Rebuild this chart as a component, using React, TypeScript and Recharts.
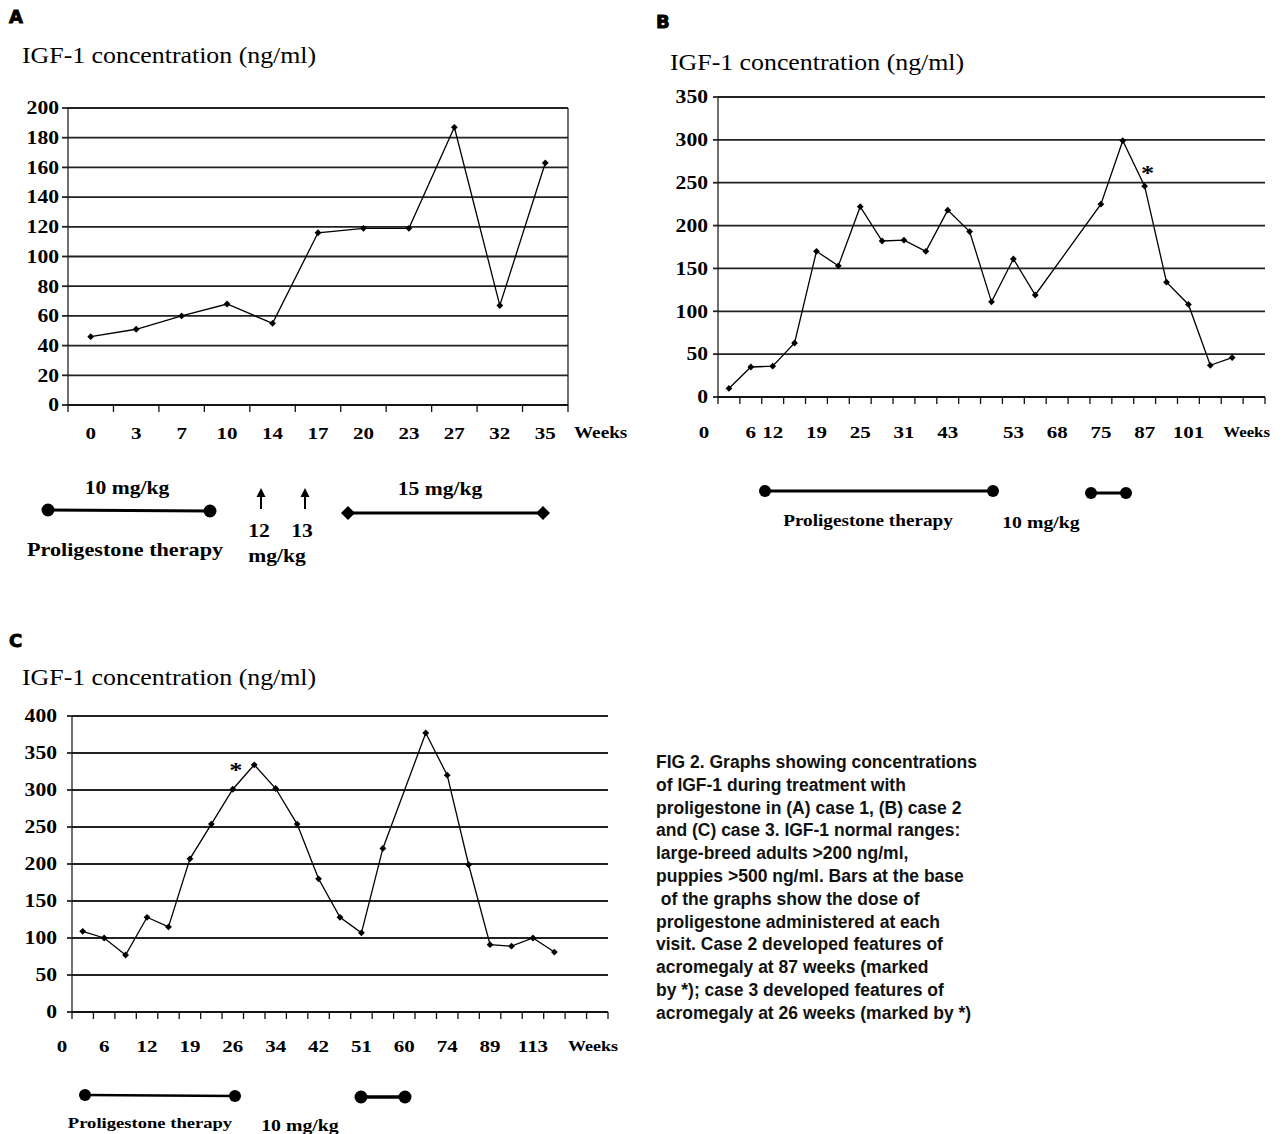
import React from "react";
import { LineChart, Line, XAxis, YAxis, CartesianGrid } from "recharts";

const SERIF = '"Liberation Serif", "Times New Roman", Times, serif';
const SANS = '"Liberation Sans", Arial, Helvetica, sans-serif';
const HEAVY = '"DejaVu Sans", "Liberation Sans", sans-serif';
const SX = 1.2; // the scanned type is a little wider than plain Times
const INK = "#111";

// Case 1 (A): one visit per week label
const weeksA = ["0", "3", "7", "10", "14", "17", "20", "23", "27", "32", "35"];
const igfA = [46, 51, 60, 68, 55, 116, 119, 119, 187, 67, 163];
const ticksA = [0, 20, 40, 60, 80, 100, 120, 140, 160, 180, 200];

// Case 2 (B): one slot per visit, only some of them carry a week label
const weeksB = ["", "6", "12", "", "19", "", "25", "", "31", "", "43", "", "", "53", "", "68", "", "75", "", "87", "", "101", "", "", ""];
const igfB = [10, 35, 36, 63, 170, 153, 222, 182, 183, 170, 218, 193, 111, 161, 119, null, null, 225, 299, 246, 134, 108, 37, 46, null];
const ticksB = [0, 50, 100, 150, 200, 250, 300, 350];
const starB = 19; // 87 weeks

// Case 3 (C)
const weeksC = ["", "6", "", "12", "", "19", "", "26", "", "34", "", "42", "", "51", "", "60", "", "74", "", "89", "", "113", "", "", ""];
const igfC = [109, 100, 77, 128, 115, 207, 254, 301, 334, 302, 254, 180, 128, 107, 221, null, 377, 320, 199, 91, 89, 100, 81, null, null];
const ticksC = [0, 50, 100, 150, 200, 250, 300, 350, 400];
const starC = 7; // 26 weeks

const caption = [
  "FIG 2. Graphs showing concentrations",
  "of IGF-1 during treatment with",
  "proligestone in (A) case 1, (B) case 2",
  "and (C) case 3. IGF-1 normal ranges:",
  "large-breed adults >200 ng/ml,",
  "puppies >500 ng/ml. Bars at the base",
  " of the graphs show the dose of",
  "proligestone administered at each",
  "visit. Case 2 developed features of",
  "acromegaly at 87 weeks (marked",
  "by *); case 3 developed features of",
  "acromegaly at 26 weeks (marked by *)",
];

function SText({ x, y, size, anchor = "middle", weight = 700, sx = SX, children }: any) {
  return (
    <text
      transform={`translate(${x},${y}) scale(${sx},1)`}
      textAnchor={anchor}
      dominantBaseline="central"
      fontFamily={SERIF}
      fontSize={size}
      fontWeight={weight}
      fill="#000"
    >
      {children}
    </text>
  );
}

// x tick: tick mark on the band edge, week label in the middle
const WeekTick = (props: any) => {
  const { x, y, index, labels, half, count, labelDy, zeroDx, weeksDx, weeksAnchor, weeksSize } = props;
  const last = index === count - 1;
  return (
    <g>
      <line x1={x - half} y1={y} x2={x - half} y2={y + 7} stroke={INK} strokeWidth={1.3} />
      {last && <line x1={x + half} y1={y} x2={x + half} y2={y + 7} stroke={INK} strokeWidth={1.3} />}
      {labels[index] ? (
        <SText x={x} y={y + labelDy} size={17.5}>
          {labels[index]}
        </SText>
      ) : null}
      {index === 0 && zeroDx != null ? (
        <SText x={x - half - zeroDx} y={y + labelDy} size={17.5}>
          0
        </SText>
      ) : null}
      {last ? (
        <SText x={x + half + weeksDx} y={y + labelDy} size={weeksSize} anchor={weeksAnchor}>
          Weeks
        </SText>
      ) : null}
    </g>
  );
};

const ValueTick = (props: any) => (
  <SText x={props.x} y={props.y} size={18} anchor="end">
    {props.payload.value}
  </SText>
);

const Diamond = (p: any) => {
  if (p.cx == null || p.cy == null || p.value == null) return <g key={p.index} />;
  const s = 3.4;
  return (
    <path
      key={p.index}
      d={`M${p.cx},${p.cy - s}L${p.cx + s},${p.cy}L${p.cx},${p.cy + s}L${p.cx - s},${p.cy}Z`}
      fill="#000"
    />
  );
};

function Panel({
  weeks, values, ticks, left, top, width, height, margin, yWidth, xHeight,
  box = false, star, starDy = -13, labelDy, zeroDx, weeksDx, weeksAnchor, weeksSize, yTickSize, yTickMargin,
}: any) {
  const rows = values.map((v: number | null, i: number) => ({ idx: i, igf: v }));
  const plotW = width - margin.left - margin.right - yWidth - (box ? 1 : 0);
  const half = plotW / rows.length / 2;
  const max = ticks[ticks.length - 1];
  return (
    <div style={{ position: "absolute", left, top }}>
      <LineChart width={width} height={height} data={rows} margin={margin}>
        <CartesianGrid vertical={false} stroke="#222" strokeWidth={1.8} />
        <XAxis
          dataKey="idx"
          type="category"
          scale="band"
          interval={0}
          height={xHeight}
          tickSize={0}
          tickMargin={0}
          tickLine={false}
          axisLine={{ stroke: INK, strokeWidth: 1.6 }}
          tick={
            <WeekTick
              labels={weeks}
              half={half}
              count={rows.length}
              labelDy={labelDy}
              zeroDx={zeroDx}
              weeksDx={weeksDx}
              weeksAnchor={weeksAnchor}
              weeksSize={weeksSize}
            />
          }
        />
        <YAxis
          domain={[0, max]}
          ticks={ticks}
          interval={0}
          width={yWidth}
          tickSize={yTickSize}
          tickMargin={yTickMargin}
          axisLine={{ stroke: INK, strokeWidth: 1.2 }}
          tickLine={{ stroke: "#222", strokeWidth: 1.8 }}
          tick={<ValueTick />}
        />
        {box && (
          <YAxis
            yAxisId="frame"
            orientation="right"
            domain={[0, max]}
            width={1}
            tick={false}
            tickLine={false}
            axisLine={{ stroke: INK, strokeWidth: 1.2 }}
          />
        )}
        <Line
          dataKey="igf"
          type="linear"
          stroke="#000"
          strokeWidth={1.3}
          connectNulls
          dot={Diamond}
          activeDot={false}
          isAnimationActive={false}
          label={(p: any) =>
            star != null && p.index === star ? (
              <SText key="star" x={p.x + 3} y={p.y + starDy} size={22}>
                *
              </SText>
            ) : null
          }
        />
      </LineChart>
    </div>
  );
}

function Dot({ cx, cy, r = 6 }: any) {
  return <circle cx={cx} cy={cy} r={r} fill="#000" />;
}
function Rhomb({ cx, cy, s = 7 }: any) {
  return <path d={`M${cx - s},${cy}L${cx},${cy - s}L${cx + s},${cy}L${cx},${cy + s}Z`} fill="#000" />;
}
function Arrow({ x, y1, y2 }: any) {
  return (
    <g>
      <line x1={x} y1={y1 + 6} x2={x} y2={y2} stroke="#000" strokeWidth={2} />
      <path d={`M${x},${y1}L${x - 4.5},${y1 + 9}L${x + 4.5},${y1 + 9}Z`} fill="#000" />
    </g>
  );
}

function Letter({ x, y, children }: any) {
  return (
    <text x={x} y={y} fontFamily={HEAVY} fontWeight={700} fontSize={18} fill="#000" stroke="#000" strokeWidth={0.9}>
      {children}
    </text>
  );
}

export default function App() {
  return (
    <div style={{ position: "absolute", left: 0, top: 0, width: 1284, height: 1134, background: "#fff", overflow: "hidden" }}>
      <Panel
        weeks={weeksA} values={igfA} ticks={ticksA}
        left={0} top={90} width={640} height={370}
        margin={{ top: 18, right: 71, bottom: 15, left: 0 }}
        yWidth={68} xHeight={40} box
        labelDy={28} weeksDx={6} weeksAnchor="start" weeksSize={16}
        yTickSize={6} yTickMargin={3}
      />
      <Panel
        weeks={weeksB} values={igfB} ticks={ticksB}
        left={640} top={80} width={644} height={380}
        margin={{ top: 17, right: 19, bottom: 18, left: 0 }}
        yWidth={78} xHeight={45} star={starB} starDy={-14}
        labelDy={35} zeroDx={14} weeksDx={5} weeksAnchor="end" weeksSize={14}
        yTickSize={5} yTickMargin={5}
      />
      <Panel
        weeks={weeksC} values={igfC} ticks={ticksC}
        left={0} top={700} width={640} height={380}
        margin={{ top: 16, right: 32, bottom: 18, left: 0 }}
        yWidth={72} xHeight={50} star={starC} starDy={-20}
        labelDy={34} zeroDx={10} weeksDx={10} weeksAnchor="end" weeksSize={15}
        yTickSize={5} yTickMargin={10}
      />

      <svg width={1284} height={1134} style={{ position: "absolute", left: 0, top: 0, pointerEvents: "none" }}>
        {/* panel letters and titles */}
        <Letter x={9} y={23}>A</Letter>
        <Letter x={656} y={28}>B</Letter>
        <Letter x={9} y={647}>C</Letter>
        <SText x={22} y={55} size={23.5} weight={400} sx={1.1} anchor="start">IGF-1 concentration (ng/ml)</SText>
        <SText x={670} y={62} size={23.5} weight={400} sx={1.1} anchor="start">IGF-1 concentration (ng/ml)</SText>
        <SText x={22} y={677} size={23.5} weight={400} sx={1.1} anchor="start">IGF-1 concentration (ng/ml)</SText>

        {/* dose bars, case 1 */}
        <SText x={127} y={488} size={18}>10 mg/kg</SText>
        <line x1={48} y1={510} x2={210} y2={511} stroke="#000" strokeWidth={3} />
        <Dot cx={48} cy={510} r={6.5} />
        <Dot cx={210} cy={511} r={6.5} />
        <SText x={125} y={550} size={18.5}>Proligestone therapy</SText>
        <Arrow x={261} y1={488} y2={509} />
        <Arrow x={305} y1={488} y2={509} />
        <SText x={259} y={531} size={18}>12</SText>
        <SText x={302} y={531} size={18}>13</SText>
        <SText x={277} y={556} size={18}>mg/kg</SText>
        <line x1={348} y1={513} x2={543} y2={513} stroke="#000" strokeWidth={3} />
        <Rhomb cx={348} cy={513} />
        <Rhomb cx={543} cy={513} />
        <SText x={440} y={489} size={18}>15 mg/kg</SText>

        {/* dose bars, case 2 */}
        <line x1={765} y1={491} x2={993} y2={491} stroke="#000" strokeWidth={3} />
        <Dot cx={765} cy={491} />
        <Dot cx={993} cy={491} />
        <line x1={1091} y1={493} x2={1126} y2={493} stroke="#000" strokeWidth={3} />
        <Dot cx={1091} cy={493} />
        <Dot cx={1126} cy={493} />
        <SText x={868} y={521} size={16}>Proligestone therapy</SText>
        <SText x={1041} y={523} size={16.5}>10 mg/kg</SText>

        {/* dose bars, case 3 */}
        <line x1={85} y1={1095} x2={235} y2={1096} stroke="#000" strokeWidth={2.5} />
        <Dot cx={85} cy={1095} />
        <Dot cx={235} cy={1096} />
        <line x1={361} y1={1097} x2={405} y2={1097} stroke="#000" strokeWidth={3.5} />
        <Dot cx={361} cy={1097} r={6.5} />
        <Dot cx={405} cy={1097} r={6.5} />
        <SText x={150} y={1123} size={15.5}>Proligestone therapy</SText>
        <SText x={300} y={1126} size={16.5}>10 mg/kg</SText>
      </svg>

      <div
        style={{
          position: "absolute",
          left: 656,
          top: 751,
          fontFamily: SANS,
          fontWeight: 700,
          fontSize: 17.5,
          lineHeight: "22.8px",
          color: "#111",
          whiteSpace: "pre",
        }}
      >
        {caption.map((line, i) => (
          <div key={i}>{line}</div>
        ))}
      </div>
    </div>
  );
}
